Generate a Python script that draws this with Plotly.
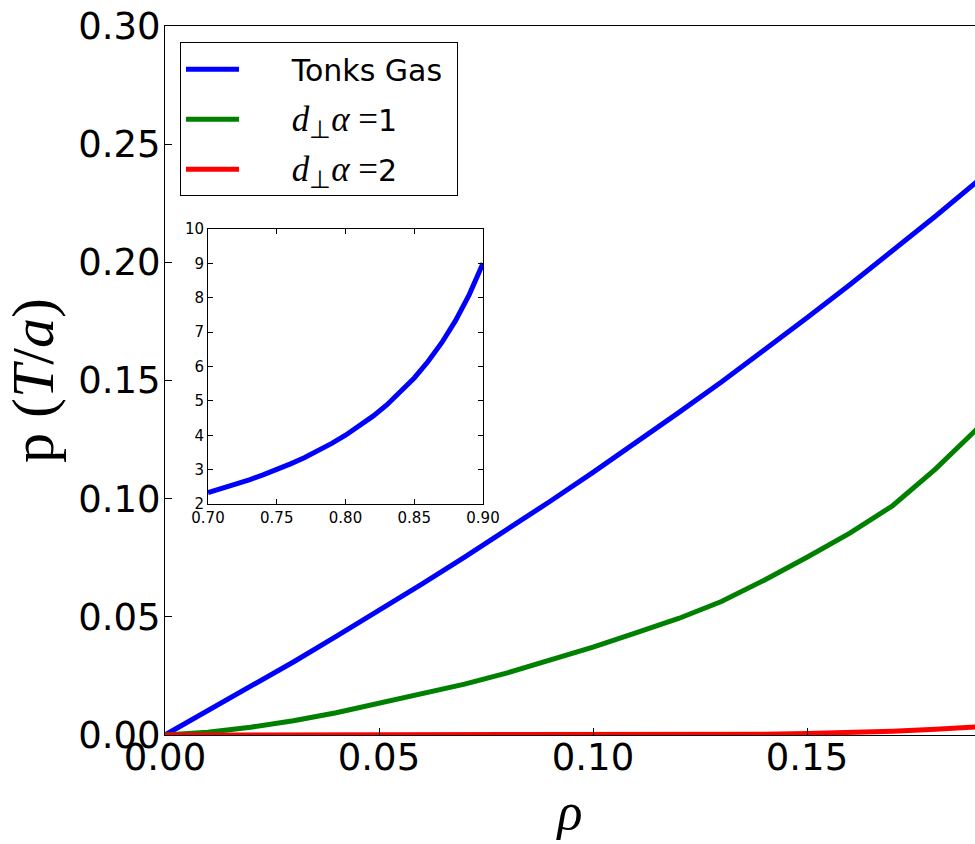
import plotly.graph_objects as go

# ---- data ----
rho_main = [0.00, 0.01, 0.02, 0.03, 0.04, 0.05, 0.06, 0.07, 0.08, 0.09,
            0.10, 0.11, 0.12, 0.13, 0.14, 0.15, 0.16, 0.17, 0.18, 0.19]
p_tonks = [0.0, 0.0101, 0.0204, 0.0309, 0.0417, 0.0526, 0.0638, 0.0753, 0.0870, 0.0989,
           0.1111, 0.1236, 0.1364, 0.1494, 0.1628, 0.1765, 0.1905, 0.2048, 0.2195, 0.2346]
p_d1 = [0.0, 0.0012, 0.0033, 0.0060, 0.0094, 0.0134, 0.0172, 0.0215, 0.0263, 0.0315,
        0.0372, 0.0432, 0.0493, 0.0565, 0.0655, 0.0752, 0.0854, 0.0970, 0.1125, 0.1300]
p_d2 = [0.0, 0.0, 0.0, 0.0, 0.0, 0.0, 0.0, 0.0, 0.0, 0.0,
        0.0, 0.0, 0.0, 0.0001, 0.0003, 0.0006, 0.0010, 0.0016, 0.0024, 0.0035]

rho_inset = [0.70, 0.71, 0.72, 0.73, 0.74, 0.75, 0.76, 0.77, 0.78, 0.79, 0.80,
             0.81, 0.82, 0.83, 0.84, 0.85, 0.86, 0.87, 0.88, 0.89, 0.90]
p_inset = [2.333, 2.448, 2.571, 2.704, 2.846, 3.000, 3.167, 3.348, 3.545, 3.762, 4.000,
           4.263, 4.556, 4.882, 5.250, 5.667, 6.143, 6.692, 7.333, 8.091, 9.000]

x_ticks = [0.00, 0.05, 0.10, 0.15]
y_ticks = [0.00, 0.05, 0.10, 0.15, 0.20, 0.25, 0.30]
inset_x_ticks = [0.70, 0.75, 0.80, 0.85, 0.90]
inset_y_ticks = [2, 3, 4, 5, 6, 7, 8, 9, 10]

PAD = "\u00a0" * 5
MATH = '<span style="font-family:Liberation Serif;font-size:35px"><i>d</i><sub>⊥</sub><i>α</i>\u00a0=</span>'
labels = [PAD + "Tonks Gas\u00a0",
          PAD + MATH + "1",
          PAD + MATH + "2"]
colors = ["#0000ff", "#008000", "#ff0000"]

SANS = "DejaVu Sans"
SERIF = "Liberation Serif"

fig = go.Figure()
for name, ys, col in zip(labels, [p_tonks, p_d1, p_d2], colors):
    fig.add_trace(go.Scatter(x=rho_main, y=ys, mode="lines", name=name,
                             legendgroup=name,
                             line=dict(color=col, width=5), xaxis="x", yaxis="y"))

fig.add_trace(go.Scatter(x=rho_inset, y=p_inset, mode="lines", showlegend=False,
                         line=dict(color="#0000ff", width=5), xaxis="x2", yaxis="y2"))

fig.update_layout(
    width=975, height=844, autosize=False,
    margin=dict(l=165, r=0, t=26, b=109, autoexpand=False),
    paper_bgcolor="white", plot_bgcolor="white",
    font=dict(family=SANS, color="black"),
    xaxis=dict(range=[0, 0.18925], tickvals=x_ticks, ticktext=[f"{v:.2f}" for v in x_ticks],
               ticks="inside", ticklen=7, tickwidth=1, tickcolor="black",
               showline=True, linecolor="black", linewidth=1, mirror=True,
               showgrid=False, zeroline=False, layer="above traces", automargin=False,
               tickfont=dict(size=37, family=SANS), ticklabelstandoff=-10,
               title=dict(text="<i>ρ</i>", font=dict(size=52, family=SERIF), standoff=14)),
    yaxis=dict(range=[0, 0.30], tickvals=y_ticks, ticktext=[f"{v:.2f}" for v in y_ticks],
               ticks="inside", ticklen=7, tickwidth=1, tickcolor="black",
               showline=True, linecolor="black", linewidth=1, mirror=False,
               showgrid=False, zeroline=False, layer="above traces", automargin=False,
               tickfont=dict(size=37, family=SANS), ticklabelstandoff=-4,
               title=dict(text="p (<i>T</i>/<i>a</i>)", font=dict(size=60, family=SERIF), standoff=8)),
    xaxis2=dict(domain=[0.0531, 0.3926], anchor="y2", range=[0.70, 0.90],
                tickvals=inset_x_ticks, ticktext=[f"{v:.2f}" for v in inset_x_ticks],
                ticks="inside", ticklen=5, tickcolor="black", automargin=False,
                showline=True, linecolor="black", linewidth=1, mirror="allticks",
                showgrid=False, zeroline=False, tickfont=dict(size=15, family=SANS)),
    yaxis2=dict(domain=[0.3258, 0.7137], anchor="x2", range=[2, 10],
                tickvals=inset_y_ticks, ticks="inside", ticklen=5, tickcolor="black",
                showline=True, linecolor="black", linewidth=1, mirror="allticks", automargin=False,
                showgrid=False, zeroline=False, tickfont=dict(size=15, family=SANS)),
    legend=dict(x=0.0185, y=0.977, xanchor="left", yanchor="top",
                bgcolor="white", bordercolor="black", borderwidth=1,
                font=dict(size=30, family=SANS), tracegroupgap=8,
                itemwidth=53),
    showlegend=True,
)

fig.write_html(
    "out.html",
    config={"responsive": False},
    post_script="document.body.style.margin='0';document.body.style.overflow='hidden';",
)
